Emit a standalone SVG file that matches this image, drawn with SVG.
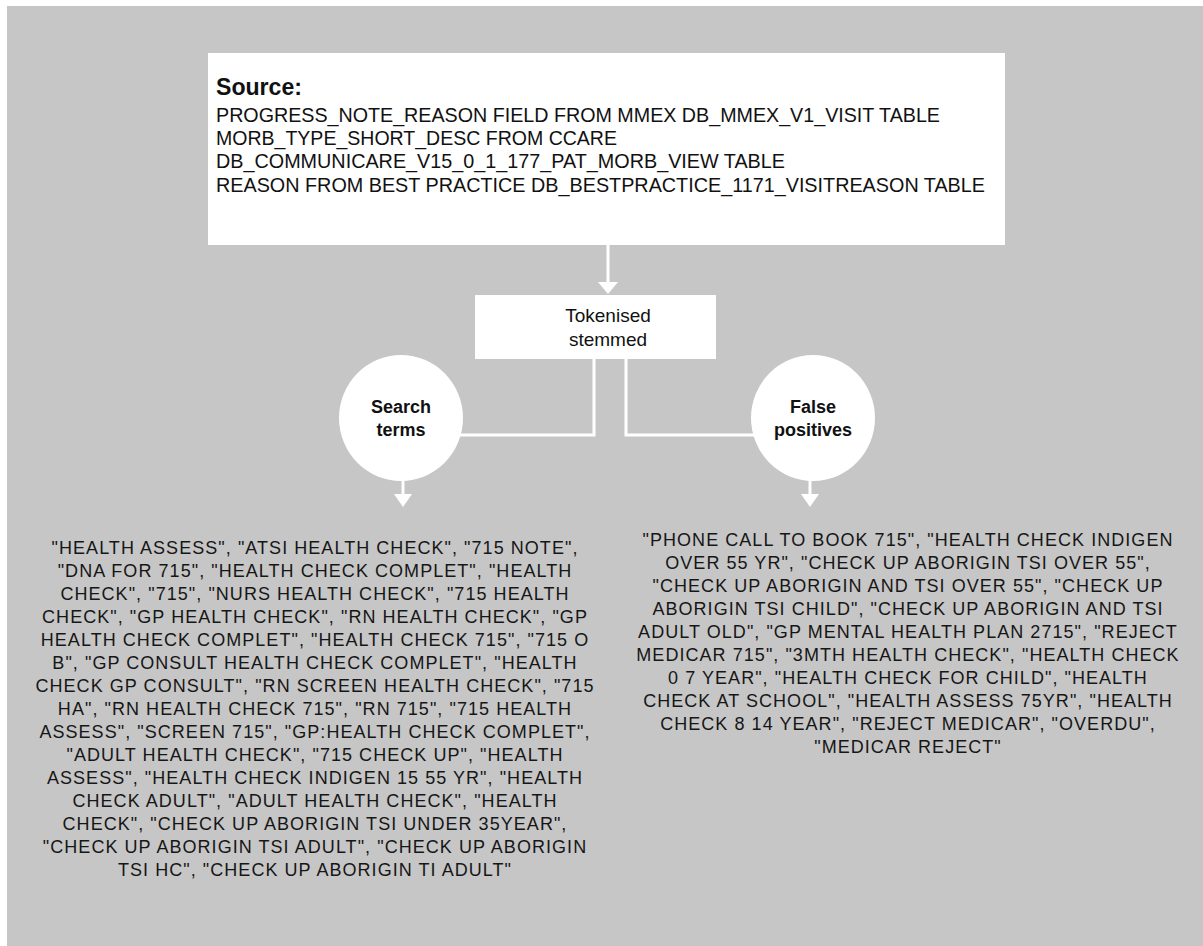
<svg xmlns="http://www.w3.org/2000/svg" width="1203" height="946" viewBox="0 0 1203 946">
<style>
.bg{fill:#c6c6c6}
.box{fill:#ffffff}
.conn{stroke:#ffffff;stroke-width:3;fill:none}
.head{fill:#ffffff}
.src{font-family:"Liberation Sans",Arial,sans-serif;font-size:21px;fill:#111}
.srch{font-family:"Liberation Sans",Arial,sans-serif;font-size:23px;font-weight:bold;fill:#111}
.lbl{font-family:"Liberation Sans",Arial,sans-serif;font-size:19px;fill:#111;text-anchor:middle}
.blbl{font-family:"Liberation Sans",Arial,sans-serif;font-size:18px;font-weight:bold;fill:#111;text-anchor:middle}
.list{font-family:"Liberation Sans",Arial,sans-serif;font-size:18px;letter-spacing:1.05px;fill:#161616;text-anchor:middle}
</style>
<rect x="0" y="0" width="1203" height="946" fill="#ffffff"/>
<rect class="bg" x="7" y="6" width="1196" height="940"/>

<g id="connectors">
  <line class="conn" x1="608" y1="245" x2="608" y2="283"/>
  <polygon class="head" points="598,282 618,282 608,294"/>
  <polyline class="conn" points="594,359 594,435 455,435"/>
  <polyline class="conn" points="626,359 626,435 758,435"/>
  <line class="conn" x1="403" y1="480" x2="403" y2="496"/>
  <polygon class="head" points="394,494 412,494 403,507"/>
  <line class="conn" x1="810" y1="480" x2="810" y2="496"/>
  <polygon class="head" points="801,494 819,494 810,507"/>
</g>

<g id="source">
  <rect class="box" x="208" y="53" width="797" height="192"/>
  <text class="srch" x="216" y="95" textLength="86" lengthAdjust="spacingAndGlyphs">Source:</text>
  <text class="src" x="216" y="122" textLength="724" lengthAdjust="spacingAndGlyphs">PROGRESS_NOTE_REASON FIELD FROM MMEX DB_MMEX_V1_VISIT TABLE</text>
  <text class="src" x="216" y="145" textLength="401" lengthAdjust="spacingAndGlyphs">MORB_TYPE_SHORT_DESC FROM CCARE</text>
  <text class="src" x="216" y="168" textLength="569" lengthAdjust="spacingAndGlyphs">DB_COMMUNICARE_V15_0_1_177_PAT_MORB_VIEW TABLE</text>
  <text class="src" x="216" y="192" textLength="769" lengthAdjust="spacingAndGlyphs">REASON FROM BEST PRACTICE DB_BESTPRACTICE_1171_VISITREASON TABLE</text>
</g>

<g id="tokenised">
  <rect class="box" x="475" y="295" width="241" height="64"/>
  <text class="lbl" x="608" y="322">Tokenised</text>
  <text class="lbl" x="608" y="346">stemmed</text>
</g>

<g id="search-terms">
  <ellipse class="box" cx="401" cy="418" rx="62" ry="63"/>
  <text class="blbl" x="401" y="413">Search</text>
  <text class="blbl" x="401" y="436">terms</text>
</g>

<g id="false-positives">
  <ellipse class="box" cx="813" cy="418" rx="62" ry="63"/>
  <text class="blbl" x="813" y="413">False</text>
  <text class="blbl" x="813" y="436">positives</text>
</g>

<g id="search-terms-list">
  <text class="list" x="315" y="554">"HEALTH ASSESS", "ATSI HEALTH CHECK", "715 NOTE",</text>
  <text class="list" x="315" y="577">"DNA FOR 715", "HEALTH CHECK COMPLET", "HEALTH</text>
  <text class="list" x="315" y="600">CHECK", "715", "NURS HEALTH CHECK", "715 HEALTH</text>
  <text class="list" x="315" y="623">CHECK", "GP HEALTH CHECK", "RN HEALTH CHECK", "GP</text>
  <text class="list" x="315" y="646">HEALTH CHECK COMPLET", "HEALTH CHECK 715", "715 O</text>
  <text class="list" x="315" y="669">B", "GP CONSULT HEALTH CHECK COMPLET", "HEALTH</text>
  <text class="list" x="315" y="692">CHECK GP CONSULT", "RN SCREEN HEALTH CHECK", "715</text>
  <text class="list" x="315" y="715">HA", "RN HEALTH CHECK 715", "RN 715", "715 HEALTH</text>
  <text class="list" x="315" y="738">ASSESS", "SCREEN 715", "GP:HEALTH CHECK COMPLET",</text>
  <text class="list" x="315" y="761">"ADULT HEALTH CHECK", "715 CHECK UP", "HEALTH</text>
  <text class="list" x="315" y="784">ASSESS", "HEALTH CHECK INDIGEN 15 55 YR", "HEALTH</text>
  <text class="list" x="315" y="807">CHECK ADULT", "ADULT HEALTH CHECK", "HEALTH</text>
  <text class="list" x="315" y="830">CHECK", "CHECK UP ABORIGIN TSI UNDER 35YEAR",</text>
  <text class="list" x="315" y="853">"CHECK UP ABORIGIN TSI ADULT", "CHECK UP ABORIGIN</text>
  <text class="list" x="315" y="876">TSI HC", "CHECK UP ABORIGIN TI ADULT"</text>
</g>

<g id="false-positives-list">
  <text class="list" x="908" y="546">"PHONE CALL TO BOOK 715", "HEALTH CHECK INDIGEN</text>
  <text class="list" x="908" y="569">OVER 55 YR", "CHECK UP ABORIGIN TSI OVER 55",</text>
  <text class="list" x="908" y="592">"CHECK UP ABORIGIN AND TSI OVER 55", "CHECK UP</text>
  <text class="list" x="908" y="615">ABORIGIN TSI CHILD", "CHECK UP ABORIGIN AND TSI</text>
  <text class="list" x="908" y="638">ADULT OLD", "GP MENTAL HEALTH PLAN 2715", "REJECT</text>
  <text class="list" x="908" y="661">MEDICAR 715", "3MTH HEALTH CHECK", "HEALTH CHECK</text>
  <text class="list" x="908" y="684">0 7 YEAR", "HEALTH CHECK FOR CHILD", "HEALTH</text>
  <text class="list" x="908" y="707">CHECK AT SCHOOL", "HEALTH ASSESS 75YR", "HEALTH</text>
  <text class="list" x="908" y="730">CHECK 8 14 YEAR", "REJECT MEDICAR", "OVERDU",</text>
  <text class="list" x="908" y="753">"MEDICAR REJECT"</text>
</g>
</svg>
